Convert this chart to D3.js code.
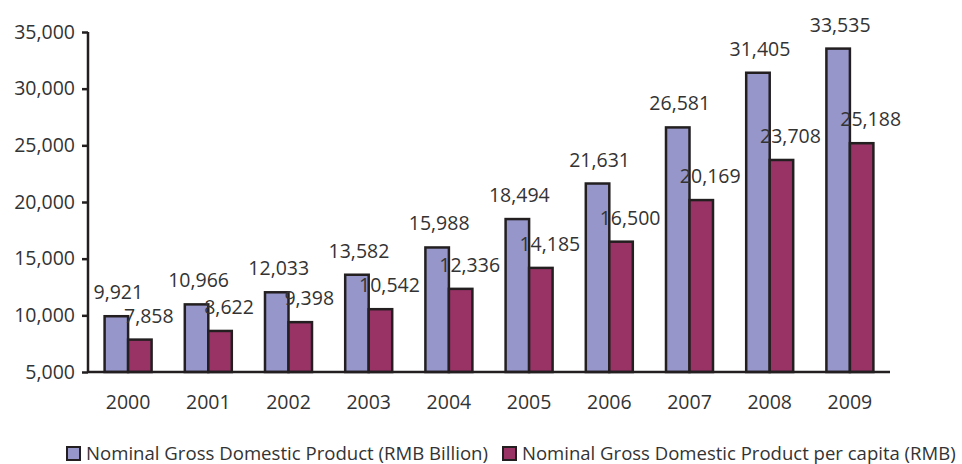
<!DOCTYPE html>
<html>
<head>
<meta charset="utf-8">
<script src="https://cdn.jsdelivr.net/npm/d3@7/dist/d3.min.js"></script>
<style>
  html, body { margin: 0; padding: 0; background: #fff; }
  svg { display: block; }
  text { font-family: "Open Sans", "Noto Sans", sans-serif; fill: #333; }
</style>
</head>
<body>
<svg id="chart" width="962" height="464"></svg>
<script>
// China nominal GDP, 2000-2009
const years = ["2000", "2001", "2002", "2003", "2004", "2005", "2006", "2007", "2008", "2009"];
const gdpBillion = [9921, 10966, 12033, 13582, 15988, 18494, 21631, 26581, 31405, 33535];
const gdpPerCapita = [7858, 8622, 9398, 10542, 12336, 14185, 16500, 20169, 23708, 25188];
const yTicks = [5000, 10000, 15000, 20000, 25000, 30000, 35000];
const seriesNames = [
  "Nominal Gross Domestic Product (RMB Billion)",
  "Nominal Gross Domestic Product per capita (RMB)"
];
const seriesColors = ["#9696cb", "#993366"];

const svg = d3.select("#chart");
const plotLeft = 88, plotRight = 890, plotTop = 32, plotBottom = 372;
const fmt = d3.format(",");

const x0 = d3.scaleBand().domain(years).range([plotLeft, plotRight])
  .paddingInner(0.414).paddingOuter(0.207);
const x1 = d3.scaleBand().domain([0, 1]).range([0, x0.bandwidth()]);
const y = d3.scaleLinear().domain([5000, 35000]).range([plotBottom, plotTop]);

const series = [gdpBillion, gdpPerCapita];
const rows = years.map((yr, i) => ({ yr, vals: series.map(s => s[i]) }));

// bars
const groups = svg.append("g").selectAll("g").data(rows).join("g")
  .attr("transform", d => `translate(${x0(d.yr)},0)`);
groups.selectAll("rect").data(d => d.vals.map((v, k) => ({ v, k }))).join("rect")
  .attr("x", d => x1(d.k))
  .attr("y", d => y(d.v))
  .attr("width", x1.bandwidth())
  .attr("height", d => plotBottom - y(d.v))
  .attr("fill", d => seriesColors[d.k])
  .attr("stroke", "#231f20")
  .attr("stroke-width", 2.5);

// value labels
const labelShift = [2, 9];
groups.selectAll("text").data(d => d.vals.map((v, k) => ({ v, k }))).join("text")
  .attr("x", d => x1(d.k) + x1.bandwidth() / 2 + labelShift[d.k])
  .attr("y", d => y(d.v) - 17)
  .attr("text-anchor", "middle")
  .style("font-size", "19.5px")
  .text(d => fmt(d.v));

// y axis
const yAxis = svg.append("g").attr("transform", `translate(${plotLeft},0)`)
  .call(d3.axisLeft(y).tickValues(yTicks).tickFormat(fmt).tickSize(6).tickPadding(7));
yAxis.select(".domain").attr("stroke", "#231f20").attr("stroke-width", 2.5)
  .attr("d", `M0,${plotTop}V${plotBottom}`);
yAxis.selectAll(".tick line").attr("stroke", "#231f20").attr("stroke-width", 2.5);
yAxis.selectAll(".tick text").style("font-size", "19.5px")
  .style("font-family", '"Open Sans", "Noto Sans", sans-serif').attr("fill", "#333");

// x axis
const xAxis = svg.append("g").attr("transform", `translate(0,${plotBottom})`)
  .call(d3.axisBottom(x0).tickSize(0).tickPadding(23));
xAxis.select(".domain").attr("stroke", "#231f20").attr("stroke-width", 2.5)
  .attr("d", `M${plotLeft},0H${plotRight}`);
xAxis.selectAll(".tick text").style("font-size", "19.5px")
  .style("font-family", '"Open Sans", "Noto Sans", sans-serif').attr("fill", "#333");

// legend: each entry's font is sized so its label fits the space beside its swatch
const legendX = [67, 503];
const legendTextWidth = [402, 434];
const legend = svg.append("g").selectAll("g").data(seriesNames).join("g")
  .attr("transform", (d, i) => `translate(${legendX[i]},447)`);
legend.append("rect")
  .attr("width", 13).attr("height", 13)
  .attr("fill", (d, i) => seriesColors[i])
  .attr("stroke", "#231f20").attr("stroke-width", 2);
legend.append("text")
  .attr("x", 19).attr("y", 13)
  .style("font-size", "19.5px")
  .text(d => d)
  .each(function (d, i) {
    const w = this.getComputedTextLength();
    const size = Math.min(19.5, 19.5 * legendTextWidth[i] / w);
    d3.select(this).style("font-size", size.toFixed(2) + "px");
  });
</script>
</body>
</html>
